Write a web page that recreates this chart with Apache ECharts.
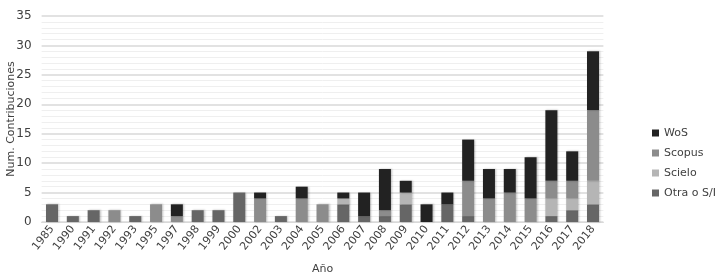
<!DOCTYPE html>
<html><head><meta charset="utf-8">
<script src="https://cdn.jsdelivr.net/npm/echarts@6/dist/echarts.min.js"></script>
<style>html,body{margin:0;padding:0;background:#fff}#c{width:719px;height:276px}</style>
</head><body><div id="c"></div>
<script>
const categories = ['1985','1990','1991','1992','1993','1995','1997','1998','1999','2000','2002','2003','2004','2005','2006','2007','2008','2009','2010','2011','2012','2013','2014','2015','2016','2017','2018'];
const otra   = [3,1,2,0,1,0,0,2,2,5,0,1,0,0,3,1,1,3,0,3,1,0,0,0,1,2,3];
const scielo = [0,0,0,0,0,0,0,0,0,0,0,0,0,0,1,0,0,2,0,0,0,0,0,0,3,2,4];
const scopus = [0,0,0,2,0,3,1,0,0,0,4,0,4,3,0,0,1,0,0,0,6,4,5,4,3,3,12];
const wos    = [0,0,0,0,0,0,2,0,0,0,1,0,2,0,1,4,7,2,3,2,7,5,4,7,12,5,10];
const yTicks = [0,5,10,15,20,25,30,35];

const font = 'DejaVu Sans';
function s(name, data, color){
  return {name, type:'bar', stack:'t', data: data.map(v=>v===0?null:v), barWidth:12,
    itemStyle:{color, shadowColor:'rgba(0,0,0,0.25)', shadowBlur:2, shadowOffsetX:1, shadowOffsetY:0}};
}
const chart = echarts.init(document.getElementById('c'), null, {renderer:'canvas'});
chart.setOption({
  animation:false,
  grid:{left:41.6, right:115.6, top:16, bottom:54, containLabel:false, outerBoundsMode:'none'},
  legend:{orient:'vertical', left:652, top:127, padding:0, itemWidth:7, itemHeight:7, itemGap:8, icon:'rect',
    textStyle:{fontFamily:font, fontSize:11, color:'#404040', lineHeight:12},
    data:['WoS','Scopus','Scielo','Otra o S/I']},
  xAxis:{type:'category', data:categories, name:'Año', nameLocation:'middle', nameGap:42, nameMoveOverlap:false,
    nameTextStyle:{fontFamily:font, fontSize:11, color:'#404040'},
    axisLine:{show:true, lineStyle:{color:'#d9d9d9'}}, axisTick:{show:false},
    axisLabel:{rotate:52, interval:0, fontFamily:font, fontSize:11, color:'#404040', margin:5}},
  yAxis:{type:'value', min:0, max:35, interval:5, name:'Num. Contribuciones', nameLocation:'middle', nameGap:25, nameMoveOverlap:false,
    nameTextStyle:{fontFamily:font, fontSize:11, color:'#404040'},
    axisLabel:{fontFamily:font, fontSize:12, color:'#404040', margin:10,
      formatter: v => yTicks.includes(v) ? String(v) : ''},
    axisLine:{show:false}, axisTick:{show:false},
    splitLine:{lineStyle:{color:'#d9d9d9', width:1.5}},
    minorTick:{show:false, splitNumber:5},
    minorSplitLine:{show:true, lineStyle:{color:'#efefef', width:1}}},
  series:[
    s('Otra o S/I', otra, '#666666'),
    s('Scielo', scielo, '#b5b5b5'),
    s('Scopus', scopus, '#8c8c8c'),
    s('WoS', wos, '#222222')
  ]
});
</script></body></html>
